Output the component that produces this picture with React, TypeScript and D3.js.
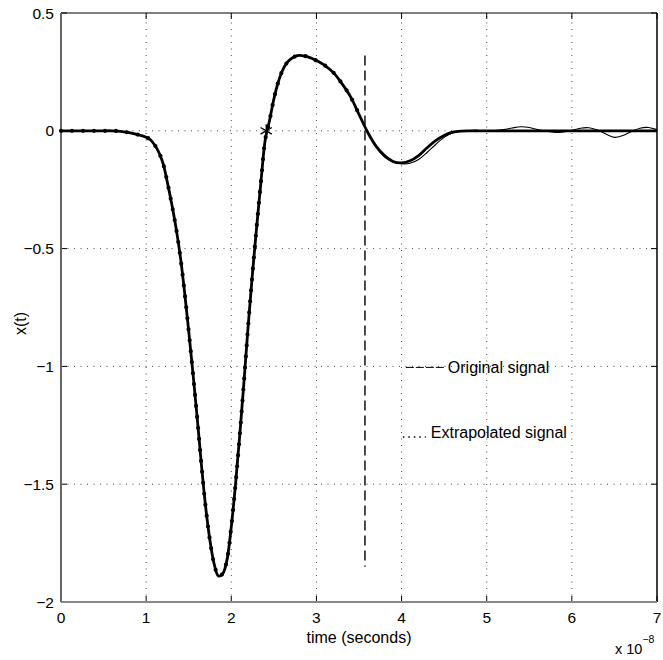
import React, { useRef, useEffect } from 'react';
import * as d3 from 'd3';

const W = 663;
const H = 660;
const MARGIN = { top: 13, right: 6, bottom: 58, left: 61 };

// time axis is in units of 1e-8 s
const xTicks = [0, 1, 2, 3, 4, 5, 6, 7];
const yTicks = [0.5, 0, -0.5, -1, -1.5, -2];

// main (thick) signal
const signalTime = [
    0, 0.1, 0.2, 0.3, 0.4, 0.5, 0.6, 0.7, 0.8, 0.9,
    1.0, 1.05, 1.1, 1.15, 1.2, 1.25, 1.3, 1.35, 1.4, 1.45,
    1.5, 1.55, 1.6, 1.65, 1.7, 1.75, 1.8, 1.85, 1.9, 1.95,
    2.0, 2.05, 2.1, 2.15, 2.2, 2.25, 2.3, 2.35, 2.4, 2.45,
    2.5, 2.55, 2.6, 2.65, 2.7, 2.75, 2.8, 2.85, 2.9, 2.95,
    3.0, 3.1, 3.2, 3.3, 3.4, 3.5, 3.6, 3.7, 3.8, 3.9,
    4.0, 4.1, 4.2, 4.3, 4.4, 4.5, 4.6, 4.7, 4.8, 5.0,
    5.5, 6.0, 6.5, 7.0,
];
const signalValue = [
    0, 0, 0, 0, 0, 0, 0, -0.002, -0.008, -0.016,
    -0.027, -0.038, -0.06, -0.092, -0.14, -0.22, -0.31, -0.41, -0.53, -0.68,
    -0.85, -1.03, -1.22, -1.42, -1.6, -1.74, -1.84, -1.89, -1.88, -1.82,
    -1.68, -1.5, -1.29, -1.06, -0.82, -0.6, -0.4, -0.21, -0.035, 0.045,
    0.135, 0.205, 0.255, 0.287, 0.305, 0.316, 0.32, 0.318, 0.314, 0.307,
    0.298, 0.277, 0.247, 0.2, 0.145, 0.07, -0.005, -0.065, -0.105, -0.13,
    -0.136, -0.127, -0.105, -0.072, -0.042, -0.02, -0.006, -0.001, 0, 0,
    0, 0, 0, 0,
];

// thin signal where it departs from the main one
const tailTime = [
    3.5, 3.6, 3.7, 3.8, 3.9, 4.0, 4.1, 4.2, 4.3, 4.4,
    4.5, 4.6, 4.7, 4.8, 4.9, 5.0, 5.1, 5.2, 5.3, 5.4,
    5.5, 5.6, 5.7, 5.8, 5.9, 6.0, 6.1, 6.2, 6.3, 6.4,
    6.5, 6.6, 6.7, 6.8, 6.9, 7.0,
];
const tailValue = [
    0.07, -0.004, -0.07, -0.112, -0.133, -0.14, -0.138, -0.122, -0.092, -0.058,
    -0.028, -0.009, -0.001, 0, 0, 0, 0.001, 0.005, 0.012, 0.017,
    0.014, 0.005, -0.002, -0.007, -0.005, 0.002, 0.011, 0.013, 0.003, -0.014,
    -0.028, -0.02, -0.003, 0.011, 0.014, 0.005,
];

const cutTime = 3.57; // vertical dashed marker
const cutRange = [0.32, -1.85];
const zeroCross = { t: 2.41, v: 0 };

const legendItems = [
    { mark: 'dash', label: 'Original signal', t: 4.05, v: -1.0 },
    { mark: 'dot', label: 'Extrapolated signal', t: 4.05, v: -1.27 },
];

const FONT = 'Helvetica, "Liberation Sans", Arial, sans-serif';

export default function App() {
    const svgRef = useRef<SVGSVGElement | null>(null);

    useEffect(() => {
        const svg = d3.select(svgRef.current);
        svg.selectAll('*').remove();

        const x = d3.scaleLinear().domain([0, 7]).range([MARGIN.left, W - MARGIN.right]);
        const y = d3.scaleLinear().domain([-2, 0.5]).range([H - MARGIN.bottom, MARGIN.top]);
        const [x0, x1] = x.range();
        const [y0, y1] = y.range();

        svg.append('rect').attr('width', W).attr('height', H).attr('fill', '#fff');

        // grid
        const grid = svg.append('g').attr('stroke', '#444').attr('stroke-width', 1).attr('stroke-dasharray', '1,5.5');
        grid.selectAll('.gx').data(xTicks.slice(1, -1)).join('line')
            .attr('x1', d => x(d)).attr('x2', d => x(d)).attr('y1', y0).attr('y2', y1);
        grid.selectAll('.gy').data(yTicks.slice(1, -1)).join('line')
            .attr('y1', d => y(d)).attr('y2', d => y(d)).attr('x1', x0).attr('x2', x1);

        // ticks (inward, on all four sides)
        const tk = svg.append('g').attr('stroke', '#000').attr('stroke-width', 1);
        xTicks.forEach(d => {
            tk.append('line').attr('x1', x(d)).attr('x2', x(d)).attr('y1', y0).attr('y2', y0 - 6);
            tk.append('line').attr('x1', x(d)).attr('x2', x(d)).attr('y1', y1).attr('y2', y1 + 6);
        });
        yTicks.forEach(d => {
            tk.append('line').attr('y1', y(d)).attr('y2', y(d)).attr('x1', x0).attr('x2', x0 + 6);
            tk.append('line').attr('y1', y(d)).attr('y2', y(d)).attr('x1', x1).attr('x2', x1 - 6);
        });

        // frame
        svg.append('line').attr('x1', x0).attr('x2', x1).attr('y1', y1).attr('y2', y1).attr('stroke', '#000').attr('stroke-width', 1.2);
        svg.append('line').attr('x1', x1).attr('x2', x1).attr('y1', y1).attr('y2', y0).attr('stroke', '#000').attr('stroke-width', 1.5);
        svg.append('line').attr('x1', x0).attr('x2', x0).attr('y1', y1).attr('y2', y0).attr('stroke', '#666').attr('stroke-width', 2);
        svg.append('line').attr('x1', x0).attr('x2', x1).attr('y1', y0).attr('y2', y0).attr('stroke', '#888').attr('stroke-width', 2);

        // tick labels
        svg.append('g').selectAll('text').data(xTicks).join('text')
            .attr('x', d => x(d)).attr('y', y0 + 21)
            .attr('text-anchor', 'middle').attr('font-family', FONT).attr('font-size', 15.5)
            .text(d => String(d));
        svg.append('g').selectAll('text').data(yTicks).join('text')
            .attr('x', x0 - 7).attr('y', d => y(d) + 5.5)
            .attr('text-anchor', 'end').attr('font-family', FONT).attr('font-size', 15.5)
            .text(d => String(d).replace('-', '\u2212'));

        // axis labels
        svg.append('text')
            .attr('x', (x0 + x1) / 2).attr('y', y0 + 41)
            .attr('text-anchor', 'middle').attr('font-family', FONT).attr('font-size', 16)
            .text('time (seconds)');
        svg.append('text')
            .attr('transform', `translate(26,${(y0 + y1) / 2 + 16}) rotate(-90)`)
            .attr('text-anchor', 'middle').attr('font-family', FONT).attr('font-size', 16)
            .text('x(t)');
        const exp = svg.append('text').attr('x', x1 - 42).attr('y', H - 6)
            .attr('font-family', FONT).attr('font-size', 14.5);
        exp.append('tspan').text('x 10');
        exp.append('tspan').attr('dy', -11).attr('font-size', 10.5).text('\u22128');

        const line = d3.line<[number, number]>()
            .x(d => x(d[0])).y(d => y(d[1]))
            .curve(d3.curveCatmullRom.alpha(0.5));

        const mainPts = signalTime.map((t, i) => [t, signalValue[i]] as [number, number]);
        const tailPts = tailTime.map((t, i) => [t, tailValue[i]] as [number, number]);

        // thin signal
        svg.append('path').attr('d', line(tailPts)).attr('fill', 'none')
            .attr('stroke', '#000').attr('stroke-width', 1.1);

        // thick signal
        svg.append('path').attr('d', line(mainPts)).attr('fill', 'none')
            .attr('stroke', '#000').attr('stroke-width', 2.8).attr('stroke-linejoin', 'round');

        // dotted overlay up to the cut
        const known = mainPts.filter(d => d[0] <= cutTime);
        svg.append('path').attr('d', line(known)).attr('fill', 'none')
            .attr('stroke', '#000').attr('stroke-width', 4.2)
            .attr('stroke-linecap', 'round').attr('stroke-dasharray', '0,11');

        // vertical dashed marker
        svg.append('line')
            .attr('x1', x(cutTime)).attr('x2', x(cutTime))
            .attr('y1', y(cutRange[0])).attr('y2', y(cutRange[1]))
            .attr('stroke', '#000').attr('stroke-width', 1.4).attr('stroke-dasharray', '10,5');

        // zero-crossing star
        svg.append('path')
            .attr('d', d3.symbol(d3.symbolAsterisk, 120)())
            .attr('transform', `translate(${x(zeroCross.t)},${y(zeroCross.v)})`)
            .attr('fill', 'none').attr('stroke', '#000').attr('stroke-width', 1.3);

        // legend text
        legendItems.forEach(item => {
            const lx = x(item.t);
            const ly = y(item.v);
            if (item.mark === 'dash') {
                svg.append('line').attr('x1', lx).attr('x2', lx + 38).attr('y1', ly + 1).attr('y2', ly + 1)
                    .attr('stroke', '#000').attr('stroke-width', 1).attr('stroke-dasharray', '8,2');
                svg.append('text').attr('x', lx + 42).attr('y', ly + 7)
                    .attr('font-family', FONT).attr('font-size', 16).text(item.label);
            } else {
                svg.append('line').attr('x1', lx - 3).attr('x2', lx + 20).attr('y1', ly + 7).attr('y2', ly + 7)
                    .attr('stroke', '#000').attr('stroke-width', 1.5).attr('stroke-dasharray', '1.5,4');
                svg.append('text').attr('x', lx + 25).attr('y', ly + 8)
                    .attr('font-family', FONT).attr('font-size', 16).text(item.label);
            }
        });
    }, []);

    return (
        <svg
            ref={svgRef}
            width={W}
            height={H}
            style={{ position: 'absolute', left: 0, top: 0, display: 'block' }}
        />
    );
}
